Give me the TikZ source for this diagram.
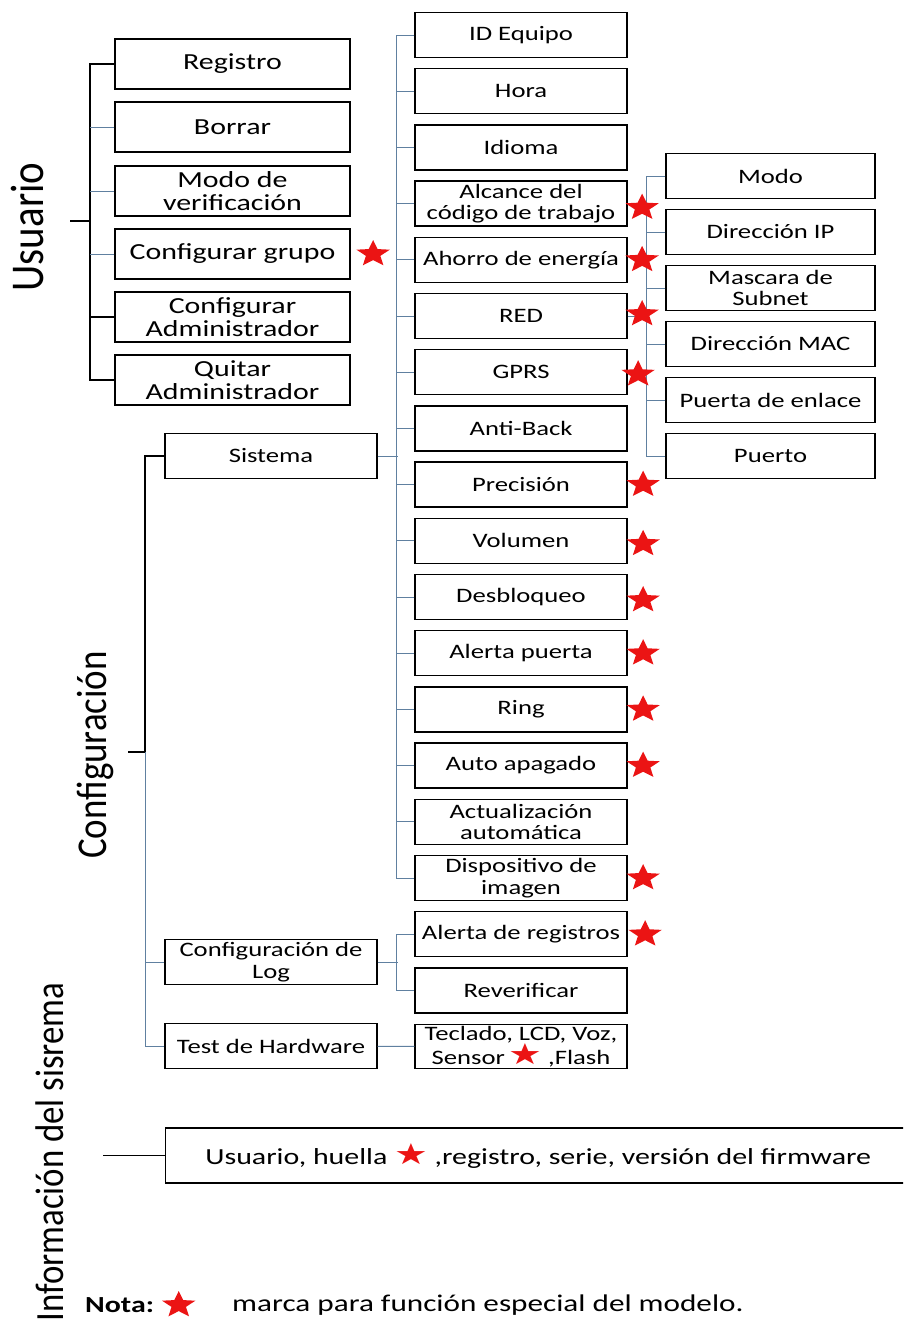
\documentclass[tikz,border=0pt]{standalone}
\usepackage{fontspec}
\setmainfont{Carlito}[FakeStretch=1.3]
\newfontfamily\labelfont{Carlito}[FakeStretch=0.87]
\newfontfamily\symfont{DejaVu Sans}
\usetikzlibrary{positioning,shapes.geometric}
\definecolor{treeblue}{RGB}{96,128,160}
\definecolor{starred}{RGB}{235,20,20}
\newcommand{\redstar}{{\symfont\fontsize{29}{29}\selectfont\textcolor{starred}{\scalebox{1.3}[1]{★}}}}

\begin{document}
\begin{tikzpicture}[x=1pt, y=-1pt,
    box/.style={draw, line width=1.3pt, minimum width=212pt, minimum height=45pt,
                inner sep=0pt, align=center, font=\fontsize{20.5}{21.5}\selectfont},
    ubox/.style={box, minimum width=235pt, minimum height=50pt, font=\fontsize{23}{23}\selectfont},
    bigtitle/.style={rotate=90, anchor=base, inner sep=0pt},
    specialstar/.style={star, star points=5, star point ratio=2.3, fill=starred,
                        draw=none, minimum size=28pt, inner sep=0pt, xscale=1.25},
    link/.style={treeblue, line width=1pt},
    blink/.style={black, line width=1.2pt}]
\clip (0,0) rectangle (903,1334);

% Titles
\node[bigtitle, font=\labelfont\fontsize{47}{47}\selectfont] (usuario) at (43,227) {Usuario};
\node[bigtitle, font=\labelfont\fontsize{42.5}{42.5}\selectfont] (config) at (106,755) {Configuración};
\node[bigtitle, font=\labelfont\fontsize{40}{40}\selectfont] (infosis) at (63,1152) {Información del sisrema};

% Usuario
\node[ubox] (reg) at (232.5,64) {Registro};
\node[ubox] (bor) at (232.5,127) {Borrar};
\node[ubox] (modo) at (232.5,191) {Modo de\\verificación};
\node[ubox] (grupo) at (232.5,254) {Configurar grupo};
\node[ubox] (cadm) at (232.5,317) {Configurar\\Administrador};
\node[ubox] (qadm) at (232.5,380) {Quitar\\Administrador};
\node[specialstar, right=12pt of grupo] (stgrupo) {};

\coordinate (ustub) at (70,221);
\coordinate (ujoin) at (90,221);
\draw[blink] (ustub) -- (ujoin);
\draw[blink] (reg.west) -| (ujoin) |- (qadm.west);
\draw[blink] (cadm.west) -- (cadm.west -| ujoin);
\draw[link] (bor.west) -- (bor.west -| ujoin) (modo.west) -- (modo.west -| ujoin)
            (grupo.west) -- (grupo.west -| ujoin);

% Configuracion
\node[box] (sis) at (271,456) {Sistema};
\node[box] (clog) at (271,962) {Configuración de\\Log};
\node[box] (thw) at (271,1046) {Test de Hardware};

\coordinate (cstub) at (128,752);
\coordinate (cjoin) at (145,752);
\draw[blink] (cstub) -- (cjoin);
\draw[blink] (sis.west) -| (cjoin);
\draw[link] (cjoin) |- (thw.west);
\draw[link] (clog.west) -- (clog.west -| cjoin);

% Sistema
\node[box] (s1) at (521,35) {ID Equipo};
\node[box] (s2) at (521,91.2) {Hora};
\node[box] (s3) at (521,147.4) {Idioma};
\node[box] (s4) at (521,203.6) {Alcance del\\código de trabajo};
\node[box] (s5) at (521,259.8) {Ahorro de energía};
\node[box] (s6) at (521,316) {RED};
\node[box] (s7) at (521,372.2) {GPRS};
\node[box] (s8) at (521,428.4) {Anti-Back};
\node[box] (s9) at (521,484.6) {Precisión};
\node[box] (s10) at (521,540.8) {Volumen};
\node[box] (s11) at (521,597) {Desbloqueo};
\node[box] (s12) at (521,653.2) {Alerta puerta};
\node[box] (s13) at (521,709.4) {Ring};
\node[box] (s14) at (521,765.6) {Auto apagado};
\node[box] (s15) at (521,821.8) {Actualización\\automática};
\node[box] (s16) at (521,878) {Dispositivo de\\imagen};

\draw[link] (sis.east) -- ++(20,0);
\draw[link] (s1.west) -- ++(-18,0) |- (s16.west);
\draw[link] (s2.west) -- ++(-18,0) (s3.west) -- ++(-18,0) (s4.west) -- ++(-18,0)
            (s5.west) -- ++(-18,0) (s6.west) -- ++(-18,0) (s7.west) -- ++(-18,0)
            (s8.west) -- ++(-18,0) (s9.west) -- ++(-18,0) (s10.west) -- ++(-18,0)
            (s11.west) -- ++(-18,0) (s12.west) -- ++(-18,0) (s13.west) -- ++(-18,0)
            (s14.west) -- ++(-18,0) (s15.west) -- ++(-18,0);

% RED
\node[box, minimum width=209pt] (rmodo) at (770.5,176) {Modo};
\node[box, minimum width=209pt] (rip) at (770.5,232) {Dirección IP};
\node[box, minimum width=209pt] (rmask) at (770.5,288) {Mascara de\\Subnet};
\node[box, minimum width=209pt] (rmac) at (770.5,344) {Dirección MAC};
\node[box, minimum width=209pt] (rgate) at (770.5,400) {Puerta de enlace};
\node[box, minimum width=209pt] (rport) at (770.5,456) {Puerto};

\draw[link] (s6.east) -- ++(20,0);
\draw[link] (rmodo.west) -- ++(-19,0) |- (rport.west);
\draw[link] (rip.west) -- ++(-19,0) (rmask.west) -- ++(-19,0)
            (rmac.west) -- ++(-19,0) (rgate.west) -- ++(-19,0);

% Log + Hardware
\node[box] (alreg) at (521,934.2) {Alerta de registros};
\node[box] (rever) at (521,990.4) {Reverificar};
\node[box, minimum height=44pt] (tecl) at (521,1046.6) {Teclado, LCD, Voz,\\Sensor\,\redstar\ ,Flash};

\draw[link] (clog.east) -- ++(20,0);
\draw[link] (alreg.west) -- ++(-18,0) |- (rever.west);
\draw[link] (thw) -- (tecl);

% stars
\node[specialstar, right=4pt of s4, yshift=-4pt] (st4) {};
\node[specialstar, right=4pt of s5] (st5) {};
\node[specialstar, right=4pt of s6, yshift=2pt] (st6) {};
\node[specialstar, right=0pt of s7, yshift=-2pt] (st7) {};
\node[specialstar, right=5pt of s9] (st9) {};
\node[specialstar, right=5pt of s10, yshift=-3pt] (st10) {};
\node[specialstar, right=5pt of s11, yshift=-3pt] (st11) {};
\node[specialstar, right=5pt of s12] (st12) {};
\node[specialstar, right=5pt of s13] (st13) {};
\node[specialstar, right=5pt of s14] (st14) {};
\node[specialstar, right=5pt of s16] (st16) {};
\node[specialstar, right=7pt of alreg] (stalreg) {};

% Informacion
\node[box, minimum width=745pt, minimum height=55pt, anchor=west,
      font=\fontsize{23}{23}\selectfont] (info) at (165,1155.5)
      {Usuario, huella \redstar\ ,registro, serie, versión del firmware};
\coordinate (istub) at (103,1155.5);
\draw[blink] (istub) -- (info.west);

% Nota
\node[anchor=west, inner sep=0pt, font=\bfseries\fontsize{23}{23}\selectfont] (nota) at (85,1305) {Nota:};
\node[specialstar, right=14pt of nota] (notastar) {};
\node[anchor=west, inner sep=0pt, font=\fontsize{24}{24}\selectfont] (notatext) at (232,1305)
      {marca para función especial del modelo.};
\end{tikzpicture}
\end{document}
